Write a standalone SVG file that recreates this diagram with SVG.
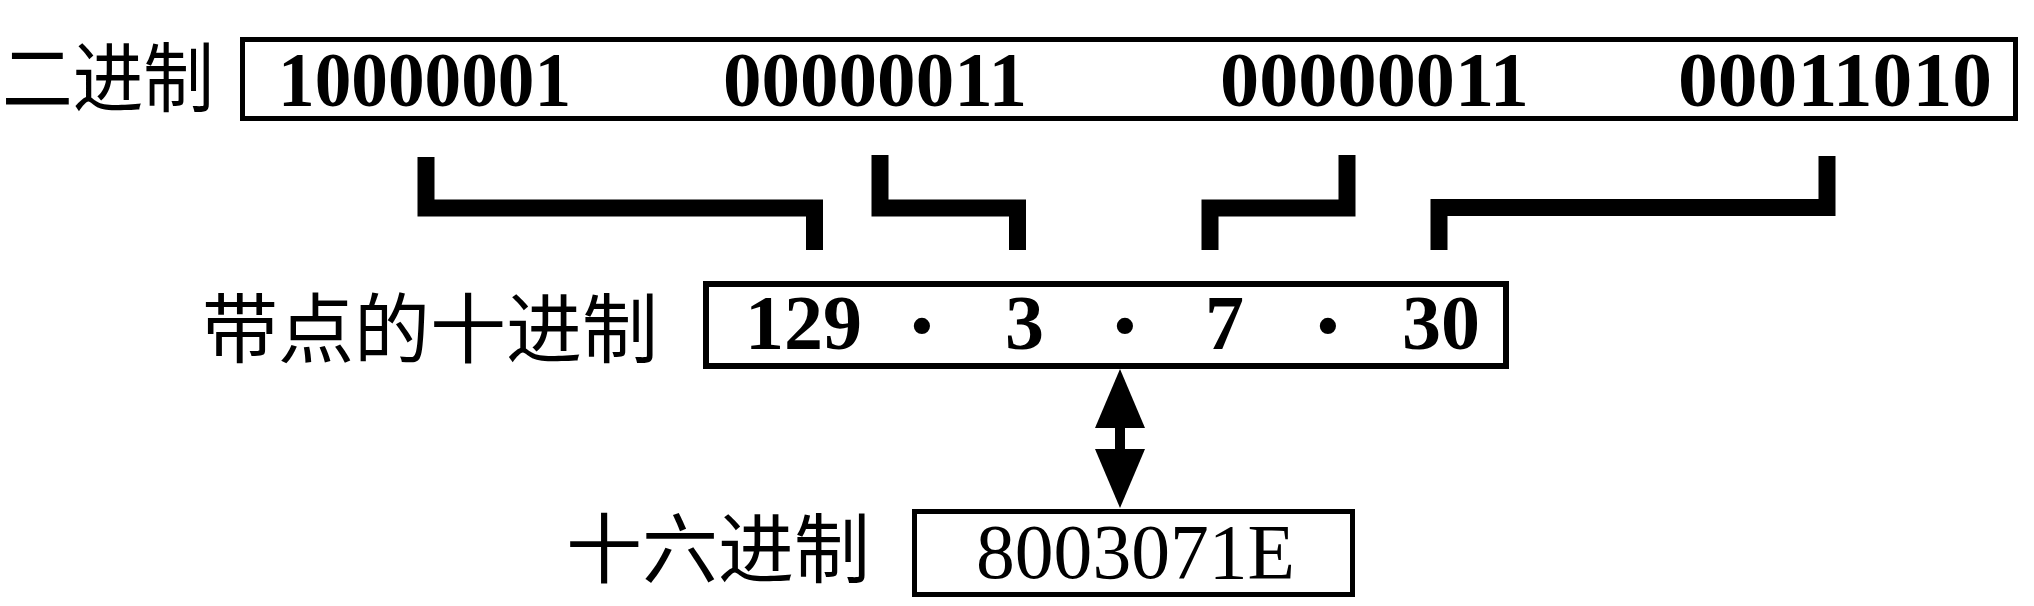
<svg xmlns="http://www.w3.org/2000/svg" width="2034" height="606" viewBox="0 0 2034 606">
<style>
.box{fill:#fff;stroke:#000;}
.cjk{font-family:"Noto Sans CJK SC","Noto Sans CJK JP",sans-serif;font-size:76px;fill:#000;}
.num{font-family:"Liberation Serif","Times New Roman",serif;font-size:78px;fill:#000;}
.b{font-weight:bold;}
.dot{font-family:"Liberation Serif","Times New Roman",serif;font-size:100px;font-weight:bold;fill:#000;}
.br{fill:none;stroke:#000;stroke-width:17;stroke-linejoin:miter;stroke-linecap:butt;}
.shaft{fill:none;stroke:#000;stroke-width:10;}
</style>
<defs>
<marker id="ah" markerUnits="userSpaceOnUse" markerWidth="80" markerHeight="80" orient="auto-start-reverse" refX="0" refY="0" overflow="visible">
<path d="M -1 -25 L 58 0 L -1 25 z" fill="#000"/>
</marker>
</defs>
<rect width="2034" height="606" fill="#fff"/>
<g id="binary">
<text class="cjk" x="2" y="106" textLength="212" lengthAdjust="spacingAndGlyphs">二进制</text>
<rect class="box" x="242.5" y="39.5" width="1773" height="79" stroke-width="5"/>
<text class="num b" x="278" y="106" font-size="80" textLength="293" lengthAdjust="spacingAndGlyphs">10000001</text>
<text class="num b" x="723" y="106" font-size="80" textLength="304" lengthAdjust="spacingAndGlyphs">00000011</text>
<text class="num b" x="1220" y="106" font-size="80" textLength="309" lengthAdjust="spacingAndGlyphs">00000011</text>
<text class="num b" x="1678" y="106" font-size="80" textLength="314" lengthAdjust="spacingAndGlyphs">00011010</text>
</g>
<g id="dotted-decimal">
<text class="cjk" x="202" y="357">带点的十进制</text>
<rect class="box" x="706" y="284" width="800" height="82" stroke-width="6"/>
<text class="num b" x="745" y="349">129</text>
<text class="dot" x="922" y="359" text-anchor="middle">·</text>
<text class="num b" x="1005" y="349">3</text>
<text class="dot" x="1125" y="359" text-anchor="middle">·</text>
<text class="num b" x="1205" y="349">7</text>
<text class="dot" x="1328" y="359" text-anchor="middle">·</text>
<text class="num b" x="1402" y="349">30</text>
</g>
<g id="hex">
<text class="cjk" x="566" y="577">十六进制</text>
<rect class="box" x="914.5" y="511.5" width="438" height="83" stroke-width="5"/>
<text class="num" x="976" y="578" font-size="80" textLength="319" lengthAdjust="spacingAndGlyphs">8003071E</text>
</g>
<g id="connectors">
<path class="br" d="M426 157 L426 208 L814.5 208 L814.5 250"/>
<path class="br" d="M880 155 L880 208 L1017.5 208 L1017.5 250"/>
<path class="br" d="M1210 250 L1210 208 L1347 208 L1347 155"/>
<path class="br" d="M1439 250 L1439 207.5 L1827 207.5 L1827 156"/>
<line class="shaft" x1="1120" y1="427" x2="1120" y2="450" marker-start="url(#ah)" marker-end="url(#ah)"/>
</g>
</svg>
